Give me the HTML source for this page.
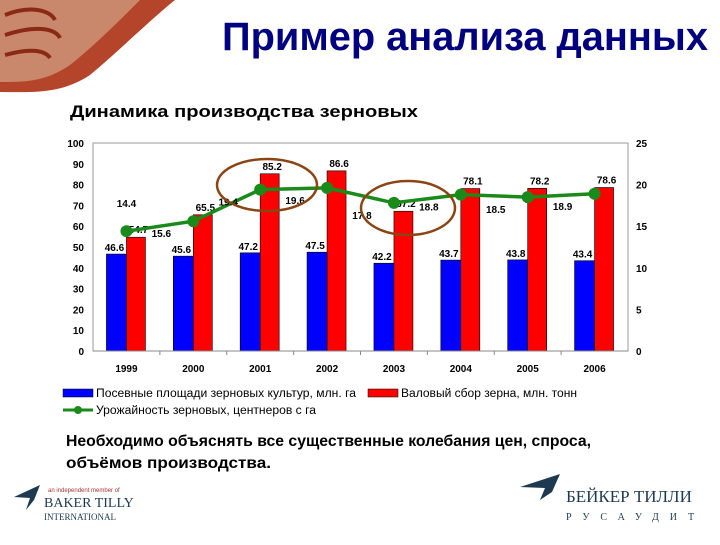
<!DOCTYPE html>
<html><head><meta charset="utf-8"><style>
body{margin:0;width:720px;height:540px;background:#fff;overflow:hidden;font-family:"Liberation Sans",sans-serif}
</style></head><body>
<svg width="720" height="540" xmlns="http://www.w3.org/2000/svg" font-family="Liberation Sans, sans-serif">
<g>
<path d="M0 0 H175 C150 20 120 50 90 75 C60 95 30 92 0 92 Z" fill="#b5452a"/>
<path d="M0 0 H140 C120 20 95 45 70 65 C45 82 25 82 0 82 Z" fill="#c9876c"/>
<path d="M5 15 C30 5 50 10 55 20 M5 35 C35 25 55 28 60 38 M5 55 C30 48 45 50 50 58" stroke="#8a2a15" stroke-width="4" fill="none"/>
</g>
<text x="222" y="50" textLength="486" lengthAdjust="spacingAndGlyphs" font-size="40" font-weight="bold" fill="#000080">Пример анализа данных</text>
<text x="70" y="117" textLength="348" lengthAdjust="spacingAndGlyphs" font-size="17" font-weight="bold" fill="#000">Динамика производства зерновых</text>
<g id="chart"></g>
<g font-size="11.5">
<rect x="63" y="389" width="30" height="8" fill="#0000ff" stroke="#000" stroke-width="0.5"/>
<text x="96" y="397" textLength="260" lengthAdjust="spacingAndGlyphs">Посевные площади зерновых культур, млн. га</text>
<rect x="368" y="389" width="30" height="8" fill="#ff0000" stroke="#000" stroke-width="0.5"/>
<text x="401" y="397" textLength="176" lengthAdjust="spacingAndGlyphs">Валовый сбор зерна, млн. тонн</text>
<line x1="63" y1="410" x2="93" y2="410" stroke="#1a8a1a" stroke-width="3"/>
<circle cx="78" cy="410" r="4" fill="#1a8a1a"/>
<text x="96" y="414" textLength="220" lengthAdjust="spacingAndGlyphs">Урожайность зерновых, центнеров с га</text>
</g>
<text x="66" y="446" textLength="525" lengthAdjust="spacingAndGlyphs" font-size="16" font-weight="bold">Необходимо объяснять все существенные колебания цен, спроса,</text>
<text x="66" y="468" textLength="205" lengthAdjust="spacingAndGlyphs" font-size="16" font-weight="bold">объёмов производства.</text>
<g>
<path d="M14 497 L40 485 L34 500 L26 510 L30 498 Z" fill="#1e3a50"/>
<text x="48" y="492" font-size="6" fill="#a33">an independent member of</text>
<text x="44" y="507" font-size="14" font-family="Liberation Serif, serif" fill="#1e3a50">BAKER TILLY</text>
<text x="44" y="520" font-size="9" font-family="Liberation Serif, serif" fill="#1e3a50">INTERNATIONAL</text>
</g>
<g>
<path d="M520 487 L560 474 L552 492 L540 500 L545 488 Z" fill="#1e3a50"/>
<text x="566" y="502" font-size="17" font-family="Liberation Serif, serif" fill="#1e3a50">БЕЙКЕР ТИЛЛИ</text>
<text x="566" y="520" font-size="10" font-family="Liberation Serif, serif" fill="#1e3a50" letter-spacing="11">РУСАУДИТ</text>
</g>
</svg>
<script>
const years=["1999","2000","2001","2002","2003","2004","2005","2006"];
const areaVals=[46.6,45.6,47.2,47.5,42.2,43.7,43.8,43.4];
const harvestVals=[54.7,65.5,85.2,86.6,67.2,78.1,78.2,78.6];
const yieldVals=[14.4,15.6,19.4,19.6,17.8,18.8,18.5,18.9];
const leftTicks=[0,10,20,30,40,50,60,70,80,90,100];
const rightTicks=[0,5,10,15,20,25];
const NS="http://www.w3.org/2000/svg";
const g=document.getElementById('chart');
const L=93,R=628,T=143,B=351;
const yL=v=>B-(v/100)*(B-T), yR=v=>B-(v/25)*(B-T);
const bw=(R-L)/years.length, cx=i=>L+bw*(i+0.5);
function mk(tag,at,txt){const e=document.createElementNS(NS,tag);for(const k in at)e.setAttribute(k,at[k]);if(txt!==undefined)e.textContent=txt;g.appendChild(e);return e;}
let e=mk('rect',{x:L,y:T,width:R-L,height:B-T,fill:'none',stroke:'#999'});

leftTicks.forEach(v=>{const t=mk('text',{x:84,y:yL(v)+4,'text-anchor':'end','font-size':10,'font-weight':'bold'},v);
});
rightTicks.forEach(v=>{const t=mk('text',{x:636,y:yR(v)+4,'font-size':10,'font-weight':'bold'},v);
});
years.forEach((y,i)=>{
 const t=mk('text',{x:cx(i),y:372,'text-anchor':'middle','font-size':10,'font-weight':'bold'},y);
 
 if(i>0){const l=mk('line',{x1:L+bw*i,x2:L+bw*i,y1:B,y2:B+4,stroke:'#888'});}
 const b=mk('rect',{x:cx(i)-20,y:yL(areaVals[i]),width:20,height:B-yL(areaVals[i]),fill:'#0000ff',stroke:'#000','stroke-width':0.6});
 
 const r=mk('rect',{x:cx(i),y:yL(harvestVals[i]),width:19,height:B-yL(harvestVals[i]),fill:'#ff0000',stroke:'#000','stroke-width':0.6});
 
 const a=mk('text',{x:cx(i)-12,y:yL(areaVals[i])-3,'text-anchor':'middle','font-size':10,'font-weight':'bold'},areaVals[i]);
 
 const h=mk('text',{x:cx(i)+12,y:yL(harvestVals[i])-4,'text-anchor':'middle','font-size':10,'font-weight':'bold'},harvestVals[i]);
 
});
e=mk('line',{x1:L,y1:B,x2:R,y2:B,stroke:'#888'});
const pts=yieldVals.map((v,i)=>cx(i)+','+yR(v)).join(' ');
e=mk('polyline',{points:pts,fill:'none',stroke:'#1a8a1a','stroke-width':3.5});

yieldVals.forEach((v,i)=>{
 const c=mk('circle',{cx:cx(i),cy:yR(v),r:6,fill:'#1a8a1a'});
 
 const lx=i===0?cx(i):cx(i)-32, ly=i===0?yR(v)-24:yR(v)+16;
 const t=mk('text',{x:lx,y:ly,'text-anchor':'middle','font-size':10,'font-weight':'bold'},v);
 
});
e=mk('ellipse',{cx:267,cy:185,rx:50,ry:26,fill:'none',stroke:'#8b4513','stroke-width':2.5});

e=mk('ellipse',{cx:408,cy:208,rx:47,ry:27,fill:'none',stroke:'#8b4513','stroke-width':2.5});

</script>
</body></html>
